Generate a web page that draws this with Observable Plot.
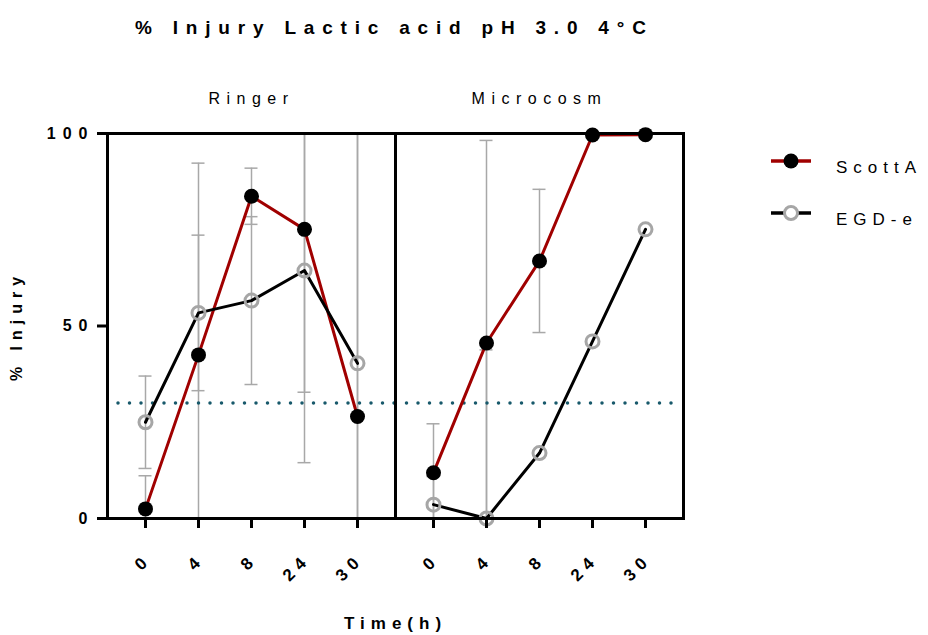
<!DOCTYPE html>
<html><head><meta charset="utf-8">
<script src="https://cdn.jsdelivr.net/npm/d3@7"></script>
<script src="https://cdn.jsdelivr.net/npm/@observablehq/plot@0.6"></script>
<style>
body{margin:0;background:#fff;font-family:"Liberation Sans",Arial,sans-serif;}
#wrap{position:relative;width:928px;height:635px;overflow:hidden;}
#chart{position:absolute;left:0;top:0;}
#title{position:absolute;left:135px;top:17px;font-weight:bold;font-size:19px;letter-spacing:7.8px;white-space:nowrap;color:#000;}
.leg{position:absolute;left:770px;height:20px;display:flex;align-items:center;}
.leg span{margin-left:24px;font-size:17px;letter-spacing:6px;color:#000;position:relative;top:7px;}
svg text{font-family:"Liberation Sans",Arial,sans-serif;}
g[aria-label="y-axis tick label"] text{letter-spacing:7px;}
g[aria-label="x-axis tick label"] text{letter-spacing:6px;}
g[aria-label="fx-axis tick label"] text{letter-spacing:6.5px;}
g[aria-label="y-axis label"] text{letter-spacing:6px;}
g[aria-label="x-axis label"] text{letter-spacing:6px;}
</style>
</head><body>
<div id="wrap">
  <div id="chart"></div>
  <div id="title">% Injury Lactic acid pH 3.0 4°C</div>
  <div class="leg" style="top:151px"><svg width="42" height="20"><line x1="1" x2="41" y1="10" y2="10" stroke="#a00000" stroke-width="3.5"/><circle cx="21" cy="10" r="7.5" fill="#000"/></svg><span>ScottA</span></div>
  <div class="leg" style="top:203px"><svg width="42" height="20"><line x1="1" x2="41" y1="10" y2="10" stroke="#000" stroke-width="3.5"/><circle cx="21" cy="10" r="6.5" fill="#fff" stroke="#a6a6a6" stroke-width="3"/></svg><span>EGD-e</span></div>
</div>
<script>
const times = ["0", "4", "8", "24", "30"];
const media = ["Ringer", "Microcosm"];
const strains = ["ScottA", "EGD-e"];
const threshold = 30;

const ringerScottA    = [2.5, 42.5, 83.7, 75.1, 26.5];
const ringerScottAErr = [8.6, 49.8, 7.3, 42.3, 80];
const ringerEGDe      = [25.0, 53.4, 56.6, 64.4, 40.3];
const ringerEGDeErr   = [12.0, 20.2, 21.8, 49.9, 70];
const microScottA     = [11.9, 45.6, 66.9, 99.6, 99.7];
const microScottAErr  = [12.7, 52.6, 18.6, 0, 0];
const microEGDe       = [3.6, 0.0, 17.0, 46.0, 75.1];
const microEGDeErr    = [7.3, 43.8, 0, 0, 0];

const rows = [];
function add(medium, strain, vals, errs) {
  times.forEach((t, i) => rows.push({medium, strain, t, v: vals[i], e: errs[i]}));
}
add("Ringer", "ScottA", ringerScottA, ringerScottAErr);
add("Ringer", "EGD-e", ringerEGDe, ringerEGDeErr);
add("Microcosm", "ScottA", microScottA, microScottAErr);
add("Microcosm", "EGD-e", microEGDe, microEGDeErr);
const errRows = rows.filter(d => d.e > 0);
const lo = d => d.v - d.e, hi = d => d.v + d.e;
const errColor = "#a8a8a8";
const capOpts = {fx: "medium", x1: "t", x2: "t", stroke: errColor, strokeWidth: 1.5, insetLeft: -6.5, insetRight: -6.5};

const plot = Plot.plot({
  width: 928, height: 635,
  marginLeft: 107, marginRight: 245, marginTop: 133, marginBottom: 117,
  style: {background: "transparent"},
  fx: {domain: media, padding: 0, label: null},
  x: {domain: times, type: "point", padding: 0.667, label: null},
  y: {domain: [0, 100], clamp: true, label: null},
  marks: [
    Plot.ruleX(errRows, {fx: "medium", x: "t", y1: lo, y2: hi, stroke: errColor, strokeWidth: 1.5}),
    Plot.ruleY(errRows, {...capOpts, y: lo}),
    Plot.ruleY(errRows, {...capOpts, y: hi}),
    Plot.ruleY([{medium: "Ringer", y: threshold}], {fx: "medium", y: "y", insetLeft: 11, stroke: "#17596b", strokeWidth: 3.5, strokeDasharray: "0,11.5", strokeLinecap: "round"}),
    Plot.ruleY([{medium: "Microcosm", y: threshold}], {fx: "medium", y: "y", insetRight: 11, stroke: "#17596b", strokeWidth: 3.5, strokeDasharray: "0,11.5", strokeLinecap: "round"}),
    Plot.line(rows, {fx: "medium", x: "t", y: "v", z: "strain", stroke: d => d.strain === "ScottA" ? "#a00000" : "#000000", strokeWidth: 3}),
    Plot.dot(rows.filter(d => d.strain === "ScottA"), {fx: "medium", x: "t", y: "v", r: 7.5, fill: "#000", stroke: "none"}),
    Plot.dot(rows.filter(d => d.strain === "EGD-e"), {fx: "medium", x: "t", y: "v", r: 6.5, fill: "none", stroke: "#a6a6a6", strokeWidth: 3}),
    Plot.frame({stroke: "#000", strokeWidth: 3}),
    Plot.axisFx({anchor: "top", tickSize: 0, tickPadding: 30, fontSize: 16, label: null}),
    Plot.axisY({ticks: [0, 50, 100], tickSize: 10, strokeWidth: 3, tickPadding: 3, fontSize: 16, fontWeight: "bold",
      label: "% Injury", labelAnchor: "center", labelArrow: "none", labelOffset: 97}),
    Plot.axisX({tickSize: 10, strokeWidth: 3, tickFormat: () => "", fontSize: 17, fontWeight: "bold",
      label: "Time(h)", labelAnchor: "center", labelArrow: "none", labelOffset: 110}),
    Plot.axisX({tickSize: 0, tickRotate: -45, tickPadding: 38, dx: 3, fontSize: 17, fontWeight: "bold", textAnchor: "end", label: null})
  ]
});
document.getElementById("chart").appendChild(plot);
</script>
</body></html>
